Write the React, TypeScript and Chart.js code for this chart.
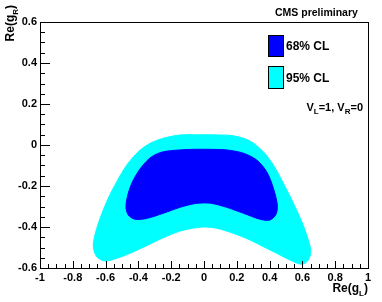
import React, { useEffect, useRef } from "react";
import { Chart, registerables } from "chart.js";

Chart.register(...registerables);

// 68% CL contour (Re(gL), Re(gR))
const cl68X = [0.0, 0.037, 0.138, 0.24, 0.321, 0.382, 0.423, 0.447, 0.439, 0.402, 0.341, 0.24, 0.138, 0.04, -0.05, -0.146, -0.248, -0.349, -0.421, -0.462, -0.476, -0.462, -0.431, -0.38, -0.319, -0.248, -0.146, -0.06, 0.0];
const cl68Y = [-0.021, -0.021, -0.024, -0.04, -0.073, -0.13, -0.211, -0.293, -0.338, -0.366, -0.362, -0.333, -0.304, -0.284, -0.285, -0.304, -0.333, -0.358, -0.362, -0.341, -0.301, -0.236, -0.171, -0.106, -0.057, -0.033, -0.024, -0.021, -0.021];

// 95% CL contour
const cl95X = [0.0, 0.09, 0.179, 0.28, 0.362, 0.423, 0.484, 0.545, 0.596, 0.636, 0.651, 0.636, 0.596, 0.524, 0.443, 0.362, 0.28, 0.179, 0.077, 0.0, -0.045, -0.146, -0.248, -0.349, -0.451, -0.532, -0.604, -0.654, -0.675, -0.665, -0.634, -0.584, -0.532, -0.471, -0.401, -0.329, -0.248, -0.146, -0.07, 0.0];
const cl95Y = [0.05, 0.049, 0.045, 0.02, -0.033, -0.098, -0.187, -0.284, -0.374, -0.463, -0.52, -0.561, -0.582, -0.561, -0.528, -0.496, -0.463, -0.431, -0.406, -0.4, -0.403, -0.42, -0.452, -0.491, -0.528, -0.553, -0.566, -0.545, -0.496, -0.439, -0.358, -0.26, -0.179, -0.098, -0.033, 0.008, 0.033, 0.049, 0.05, 0.05];

const xTickValues = [-1, -0.8, -0.6, -0.4, -0.2, 0, 0.2, 0.4, 0.6, 0.8, 1];
const xTickLabels = ["-1", "-0.8", "-0.6", "-0.4", "-0.2", "0", "0.2", "0.4", "0.6", "0.8", "1"];
const yTickValues = [-0.6, -0.4, -0.2, 0, 0.2, 0.4, 0.6];
const yTickLabels = ["-0.6", "-0.4", "-0.2", "0", "0.2", "0.4", "0.6"];
const minorDivisions = 4;

const seriesLabels = ["68% CL", "95% CL"];
const seriesColors = ["#0000ff", "#00ffff"];

const FONT = "'Liberation Sans', Arial, Helvetica, sans-serif";

function drawSub(ctx: CanvasRenderingContext2D, parts: [string, boolean][], x: number, y: number, size: number, align: "left" | "right") {
  const subSize = Math.round(size * 0.7);
  let total = 0;
  for (const [t, sub] of parts) {
    ctx.font = `bold ${sub ? subSize : size}px ${FONT}`;
    total += ctx.measureText(t).width;
  }
  let cx = align === "right" ? x - total : x;
  for (const [t, sub] of parts) {
    ctx.font = `bold ${sub ? subSize : size}px ${FONT}`;
    ctx.fillText(t, cx, sub ? y + size * 0.3 : y);
    cx += ctx.measureText(t).width;
  }
}

const decoPlugin = {
  id: "deco",
  afterDraw(chart: any) {
    const ctx: CanvasRenderingContext2D = chart.ctx;
    const { left, right, top, bottom } = chart.chartArea;
    const xs = chart.scales.x;
    const ys = chart.scales.y;
    ctx.save();
    ctx.strokeStyle = "#000";
    ctx.lineWidth = 1;
    // frame
    ctx.strokeRect(left + 0.5, top + 0.5, right - left, bottom - top);
    // ticks
    ctx.beginPath();
    for (let i = 0; i < xTickValues.length; i++) {
      const v = xTickValues[i];
      const px = Math.round(xs.getPixelForValue(v)) + 0.5;
      ctx.moveTo(px, bottom);
      ctx.lineTo(px, bottom - 7);
      if (i < xTickValues.length - 1) {
        const step = (xTickValues[i + 1] - v) / minorDivisions;
        for (let k = 1; k < minorDivisions; k++) {
          const mx = Math.round(xs.getPixelForValue(v + k * step)) + 0.5;
          ctx.moveTo(mx, bottom);
          ctx.lineTo(mx, bottom - 4);
        }
      }
    }
    for (let i = 0; i < yTickValues.length; i++) {
      const v = yTickValues[i];
      const py = Math.round(ys.getPixelForValue(v)) + 0.5;
      ctx.moveTo(left, py);
      ctx.lineTo(left + 10, py);
      if (i < yTickValues.length - 1) {
        const step = (yTickValues[i + 1] - v) / minorDivisions;
        for (let k = 1; k < minorDivisions; k++) {
          const my = Math.round(ys.getPixelForValue(v + k * step)) + 0.5;
          ctx.moveTo(left, my);
          ctx.lineTo(left + 5, my);
        }
      }
    }
    ctx.stroke();

    ctx.fillStyle = "#000";
    ctx.textBaseline = "alphabetic";
    // x title
    drawSub(ctx, [["Re(g", false], ["L", true], [")", false]], right, 292, 12, "right");
    // y title (rotated)
    ctx.save();
    ctx.translate(14, 5);
    ctx.rotate(-Math.PI / 2);
    drawSub(ctx, [["Re(g", false], ["R", true], [")", false]], 0, 0, 12, "right");
    ctx.restore();

    // CMS preliminary
    ctx.font = `bold 10.5px ${FONT}`;
    ctx.textAlign = "left";
    ctx.fillText("CMS preliminary", 275, 16);

    // legend
    const boxes = [[35, 57], [66, 89]];
    for (let i = 0; i < seriesLabels.length; i++) {
      const [y0, y1] = boxes[i];
      ctx.fillStyle = seriesColors[i];
      ctx.fillRect(268, y0, 16, y1 - y0);
      ctx.strokeStyle = "#000";
      ctx.strokeRect(268.5, y0 + 0.5, 15, y1 - y0 - 1);
      ctx.fillStyle = "#000";
      ctx.font = `bold 12px ${FONT}`;
      ctx.textBaseline = "middle";
      ctx.fillText(seriesLabels[i], 286, (y0 + y1) / 2 + 1);
      ctx.textBaseline = "alphabetic";
    }

    // V_L=1, V_R=0
    drawSub(ctx, [["V", false], ["L", true], ["=1, V", false], ["R", true], ["=0", false]], 363, 111, 11, "right");
    ctx.restore();
  },
};

export default function App() {
  const ref = useRef<HTMLCanvasElement | null>(null);
  useEffect(() => {
    document.body.style.margin = "0";
    const canvas = ref.current!;
    const toPts = (xs: number[], ys: number[]) => xs.map((x, i) => ({ x, y: ys[i] }));
    const chart = new Chart(canvas, {
      type: "scatter",
      data: {
        datasets: [
          {
            label: seriesLabels[0],
            data: toPts(cl68X, cl68Y),
            showLine: true,
            fill: "shape",
            backgroundColor: seriesColors[0],
            borderColor: seriesColors[0],
            borderWidth: 1,
            pointRadius: 0,
            tension: 0.3,
          },
          {
            label: seriesLabels[1],
            data: toPts(cl95X, cl95Y),
            showLine: true,
            fill: "shape",
            backgroundColor: seriesColors[1],
            borderColor: seriesColors[1],
            borderWidth: 1,
            pointRadius: 0,
            tension: 0.3,
          },
        ],
      },
      options: {
        responsive: false,
        animation: false,
        events: [],
        layout: { padding: { top: 22, right: 14, left: 0, bottom: 0 } },
        plugins: { legend: { display: false }, tooltip: { enabled: false } },
        scales: {
          x: {
            type: "linear",
            min: -1,
            max: 1,
            afterBuildTicks: (s: any) => {
              s.ticks = xTickValues.map((v) => ({ value: v }));
            },
            afterFit: (s: any) => {
              s.height = 34;
            },
            grid: { display: false, drawTicks: false },
            border: { display: false },
            ticks: {
              padding: 3,
              color: "#000",
              maxRotation: 0,
              autoSkip: false,
              font: { family: FONT, size: 11, weight: "bold" },
              callback: (v: any) => {
                const i = xTickValues.findIndex((t) => Math.abs(t - v) < 1e-9);
                return i >= 0 ? xTickLabels[i] : "";
              },
            },
          },
          y: {
            type: "linear",
            min: -0.6,
            max: 0.6,
            afterBuildTicks: (s: any) => {
              s.ticks = yTickValues.map((v) => ({ value: v }));
            },
            afterFit: (s: any) => {
              s.width = 40;
            },
            grid: { display: false, drawTicks: false },
            border: { display: false },
            ticks: {
              padding: 3,
              color: "#000",
              autoSkip: false,
              font: { family: FONT, size: 11, weight: "bold" },
              callback: (v: any) => {
                const i = yTickValues.findIndex((t) => Math.abs(t - v) < 1e-9);
                return i >= 0 ? yTickLabels[i] : "";
              },
            },
          },
        },
      } as any,
      plugins: [decoPlugin],
    });
    return () => chart.destroy();
  }, []);
  return <canvas ref={ref} width={382} height={302} style={{ display: "block" }} />;
}
